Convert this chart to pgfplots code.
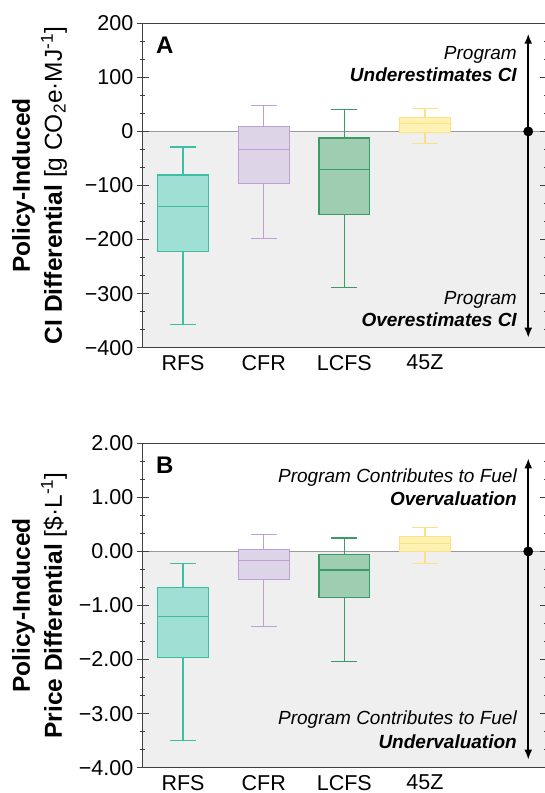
\documentclass[border=0pt]{standalone}
\usepackage{fontspec}
\setmainfont{Liberation Sans}
\usepackage{pgfplots}
\pgfplotsset{compat=1.18}
\usetikzlibrary{arrows.meta}
\definecolor{rfsE}{HTML}{3CBFA5}
\definecolor{rfsF}{HTML}{A0DFD4}
\definecolor{cfrE}{HTML}{BB9FD5}
\definecolor{cfrF}{HTML}{DDD4E8}
\definecolor{lcfsE}{HTML}{3A9B67}
\definecolor{lcfsF}{HTML}{9ECDB2}
\definecolor{zE}{HTML}{FBE184}
\definecolor{zF}{HTML}{FFF2B3}
\definecolor{bgGray}{HTML}{EFEFEF}
\definecolor{zeroGray}{HTML}{9A9A9A}

\pgfplotsset{
  panel/.style={
    scale only axis, width=403.3pt, height=324.4pt,
    xmin=0.5, xmax=5.5,
    xtick={1,2,3,4}, xticklabels={RFS,CFR,LCFS,45Z},
    tick align=center,
    major tick length=11.7pt, minor tick length=5pt,
    minor y tick num=2,
    tick style={black!75, line width=1.2pt},
    xtick style={draw=none},
    ytick pos=both, yticklabel pos=left,
    axis line style={black!75, line width=1.2pt},
    tick label style={font=\fontsize{21.5}{24}\selectfont},
    xticklabel style={yshift=2pt},
    ylabel style={at={(axis description cs:-0.256,0.5)}, anchor=center,
      align=center, font=\fontsize{24.5}{32}\selectfont},
    clip=false, axis on top,
  },
}
% box: #1 position, #2 edge, #3 fill, #4 width, then lower whisker, Q1, median, Q3, upper whisker
\newcommand{\bx}[9]{%
  \addplot[draw=#2, fill=#3, line width=#4] coordinates
    {(#1-0.316,#6) (#1+0.316,#6) (#1+0.316,#8) (#1-0.316,#8)} -- cycle;
  \addplot[#2, line width=#4] coordinates {(#1-0.316,#7) (#1+0.316,#7)};
  \addplot[#2, line width=#4] coordinates {(#1,#8) (#1,#9)};
  \addplot[#2, line width=#4] coordinates {(#1,#6) (#1,#5)};
  \addplot[#2, line width=#4] coordinates {(#1-0.16,#9) (#1+0.16,#9)};
  \addplot[#2, line width=#4] coordinates {(#1-0.16,#5) (#1+0.16,#5)};
}
\newcommand{\ann}{\fontsize{19}{22}\selectfont}

\begin{document}
\begin{tikzpicture}

% panel A
\begin{axis}[panel, at={(142.7pt,445.3pt)}, anchor=south west,
  ymin=-400, ymax=200,
  ytick={-400,-300,-200,-100,0,100,200},
  yticklabels={−400,−300,−200,−100,0,100,200},
  ylabel={\textbf{Policy-Induced}\\\textbf{CI Differential} [g CO\textsubscript{2}e·MJ\textsuperscript{-1}]}]
\addplot[fill=bgGray, draw=none] coordinates {(0.5,-400) (5.5,-400) (5.5,0) (0.5,0)} -- cycle;
\addplot[zeroGray, line width=1pt] coordinates {(0.5,0) (5.5,0)};
\bx{1}{rfsE}{rfsF}{1.3pt}{-357.6}{-222}{-138.7}{-80.8}{-29}
\bx{2}{cfrE}{cfrF}{1.1pt}{-197.9}{-96.2}{-33.9}{9.2}{48.7}
\bx{3}{lcfsE}{lcfsF}{1.3pt}{-289}{-153.5}{-70.3}{-12.3}{40}
\bx{4}{zE}{zF}{1.1pt}{-22.8}{-1.5}{14.2}{26.5}{43}
\draw[line width=1.8pt, <->, >={Latex[length=10pt,width=8pt]}]
  (axis cs:5.28,-381.5) -- (axis cs:5.28,180.7);
\addplot[only marks, mark=*, mark size=4.7pt, black] coordinates {(5.28,0)};
\end{axis}

% panel B
\begin{axis}[panel, at={(142.7pt,25.3pt)}, anchor=south west,
  ymin=-4, ymax=2,
  ytick={-4,-3,-2,-1,0,1,2},
  yticklabels={−4.00,−3.00,−2.00,−1.00,0.00,1.00,2.00},
  ylabel={\textbf{Policy-Induced}\\\textbf{Price Differential} [\$·L\textsuperscript{-1}]}]
\addplot[fill=bgGray, draw=none] coordinates {(0.5,-4) (5.5,-4) (5.5,0) (0.5,0)} -- cycle;
\addplot[zeroGray, line width=1pt] coordinates {(0.5,0) (5.5,0)};
\bx{1}{rfsE}{rfsF}{1.3pt}{-3.502}{-1.967}{-1.208}{-0.672}{-0.228}
\bx{2}{cfrE}{cfrF}{1.1pt}{-1.393}{-0.524}{-0.166}{0.037}{0.314}
\bx{3}{lcfsE}{lcfsF}{1.3pt}{-2.041}{-0.851}{-0.345}{-0.055}{0.247}
\bx{4}{zE}{zF}{1.1pt}{-0.216}{-0.006}{0.142}{0.271}{0.438}
\draw[line width=1.8pt, <->, >={Latex[length=10pt,width=8pt]}]
  (axis cs:5.28,-3.85) -- (axis cs:5.28,1.72);
\addplot[only marks, mark=*, mark size=4.7pt, black] coordinates {(5.28,0)};
\end{axis}

% panel letters and annotations
\node[anchor=base west, font=\fontsize{24}{28}\selectfont\bfseries, inner sep=0pt] at (156pt,739pt) {A};
\node[anchor=base west, font=\fontsize{24}{28}\selectfont\bfseries, inner sep=0pt] at (156pt,319pt) {B};
\node[anchor=base east, inner sep=0pt, font=\ann\itshape] at (517pt,733.7pt) {Program};
\node[anchor=base east, inner sep=0pt, font=\ann\itshape\bfseries] at (517pt,711.3pt) {Underestimates CI};
\node[anchor=base east, inner sep=0pt, font=\ann\itshape] at (517pt,488pt) {Program};
\node[anchor=base east, inner sep=0pt, font=\ann\itshape\bfseries] at (517pt,466pt) {Overestimates CI};
\node[anchor=base east, inner sep=0pt, font=\ann\itshape] at (517pt,310.3pt) {Program Contributes to Fuel};
\node[anchor=base east, inner sep=0pt, font=\ann\itshape\bfseries] at (517pt,287pt) {Overvaluation};
\node[anchor=base east, inner sep=0pt, font=\ann\itshape] at (517pt,68pt) {Program Contributes to Fuel};
\node[anchor=base east, inner sep=0pt, font=\ann\itshape\bfseries] at (517pt,44.7pt) {Undervaluation};
\pgfresetboundingbox
\path[use as bounding box] (0pt,0pt) rectangle (545pt,793pt);
\end{tikzpicture}
\end{document}
